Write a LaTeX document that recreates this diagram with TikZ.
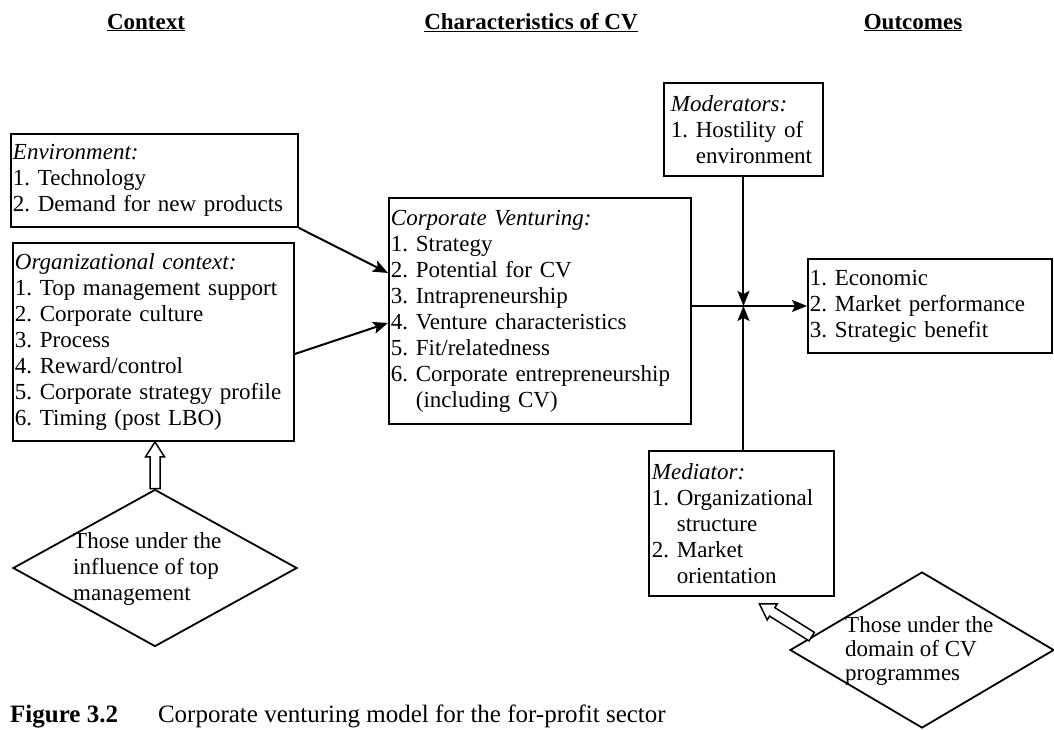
\documentclass[tikz,border=0pt]{standalone}
\usepackage{fontspec}
\setmainfont{Liberation Serif}
\usetikzlibrary{arrows.meta,shapes.geometric,calc}
\frenchspacing

% hanging indent for wrapped list items
\newcommand\hangpad{\phantom{1.\ }}

\begin{document}
\begin{tikzpicture}[x=1pt,y=-1pt,
  every node/.style={font=\fontsize{23}{26}\selectfont},
  box/.style={draw, line width=1.9pt, align=left, inner xsep=2pt, inner ysep=0pt, anchor=north west},
  head/.style={font=\fontsize{23}{26}\selectfont\bfseries, anchor=base, inner sep=0pt},
  diam/.style={draw, diamond, line width=1.8pt, inner sep=0pt},
  dtext/.style={align=left, anchor=north west, inner sep=0pt},
  arr/.style={line width=2pt, -{Stealth[length=15pt,width=12pt,inset=3pt]}},
  % outlined block arrow running from the start point to the target
  hollow/.style={draw, line width=1.5pt, fill=white, to path={
    let \p1=(\tikztostart), \p2=(\tikztotarget),
        \n1={atan2(\y2-\y1,\x2-\x1)}, \n2={veclen(\x2-\x1,\y2-\y1)}
    in {[shift={(\p1)}, rotate=\n1]
      (0pt,-5pt) -- (\n2*1pt-15pt,-5pt) -- (\n2*1pt-15pt,-9.5pt) -- (\n2*1pt,0pt)
      -- (\n2*1pt-15pt,9.5pt) -- (\n2*1pt-15pt,5pt) -- (0pt,5pt) -- cycle}}}
]
\useasboundingbox (0,0) rectangle (1054,729);

% column headings
\node[head] (hctx) at (146,29) {\underline{Context}};
\node[head] (hchar) at (531,29) {\underline{Characteristics of CV}};
\node[head] (hout) at (913,29) {\underline{Outcomes}};

% context boxes
\node[box, text width=283pt, minimum height=93pt] (env) at (10,133)
  {\textit{Environment:}\\1. Technology\\2. Demand for new products};
\node[box, text width=277pt, minimum height=198pt] (org) at (12,242)
  {\textit{Organizational context:}\\1. Top management support\\2. Corporate culture\\3. Process\\4. Reward/control\\5. Corporate strategy profile\\6. Timing (post LBO)};

% corporate venturing
\node[box, text width=298pt, minimum height=226pt] (corp) at (388,197)
  {\textit{Corporate Venturing:}\\1. Strategy\\2. Potential for CV\\3. Intrapreneurship\\4. Venture characteristics\\5. Fit/relatedness\\6. Corporate entrepreneurship\\\hangpad(including CV)};

% moderators, mediator, outcomes
\node[box, text width=145pt, inner xsep=7pt, minimum height=93pt] (mod) at (663,82)
  {\textit{Moderators:}\\1. Hostility of\\\hangpad environment};
\node[box, text width=179pt, inner xsep=3pt, minimum height=145pt] (med) at (648,450)
  {\textit{Mediator:}\\1. Organizational\\\hangpad structure\\2. Market\\\hangpad orientation};
\node[box, text width=240pt, minimum height=94pt] (out) at (807,258)
  {1. Economic\\2. Market performance\\3. Strategic benefit};

% diamonds
\node[diam, minimum width=284pt, minimum height=157pt] (d1) at (155,568) {};
\node[dtext] (d1t) at (73,532) {Those under the\\influence of top\\management};
\node[diam, minimum width=264pt, minimum height=156pt] (d2) at (922,650) {};
\node[dtext, font=\fontsize{23}{24}\selectfont] (d2t) at (845,616) {Those under the\\domain of CV\\programmes};

% connectors
\draw[arr] (env.south east) -- ([yshift=38pt]corp.west);
\draw[arr] ([yshift=-12pt]org.east) -- ([yshift=-12pt]corp.west);
\coordinate (jn) at (mod.south |- out.west);
\draw[arr] (corp.east |- out.west) -- (out.west);
\draw[arr] (mod.south) -- (jn);
\draw[arr] (med.north -| jn) -- (jn);
\draw[hollow] (d1.north) to (org.south -| d1.north);
\draw[hollow] ($(d2.west)!0.17!(d2.north)$) to ([shift={(18pt,-7pt)}]med.south);

% caption
\node[anchor=base west, inner sep=0pt, font=\fontsize{25}{28}\selectfont] (cap) at (10,722)
  {\textbf{Figure 3.2}\hspace{1.6em}Corporate venturing model for the for-profit sector};
\end{tikzpicture}
\end{document}
